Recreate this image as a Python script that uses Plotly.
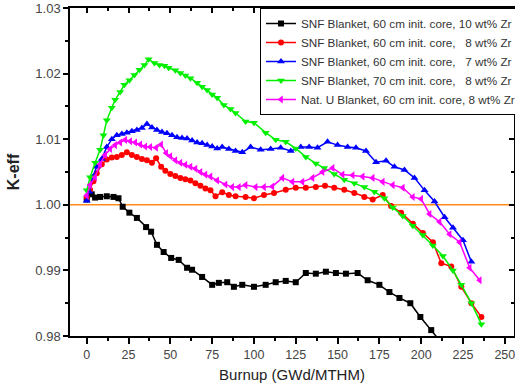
import plotly.graph_objects as go

# ---------------- data ----------------
burnup_10zr_60 = [0, 3, 5, 8, 12, 16, 19, 21.5, 25.5, 30, 35.5, 38.5, 42, 46, 50.5, 55, 60, 63,
                  69, 75, 79, 84, 88, 93, 100, 107, 113, 119, 125, 131, 137, 143, 149, 155, 162,
                  168, 175, 181, 187, 193.5, 199.5, 206, 212]
keff_10zr_60 = [1.0008, 1.0016, 1.0011, 1.0012, 1.0013, 1.0012, 1.0010, 0.9997, 0.9988, 0.9980,
                0.9966, 0.9959, 0.9939, 0.9928, 0.9919, 0.9916, 0.9904, 0.9901, 0.9890, 0.9878,
                0.9881, 0.9882, 0.9875, 0.9878, 0.9875, 0.9878, 0.9882, 0.9884, 0.9882, 0.9896,
                0.9895, 0.9898, 0.9896, 0.9895, 0.9896, 0.9885, 0.9878, 0.9867, 0.9858, 0.9850,
                0.9829, 0.9809, 0.9790]

burnup_8zr_60 = [0, 2, 4, 6, 9, 12, 15, 18, 21, 24, 27, 30, 33, 36, 39, 41.5, 44.5, 47, 50, 53,
                 56, 59, 62, 65, 68, 71, 74, 77, 81, 85, 89, 95, 100, 106, 112, 119, 125, 131,
                 137, 142.5, 148, 154, 160, 166, 171, 177, 182, 188, 195, 201, 207, 212, 218,
                 224, 230, 236]
keff_8zr_60 = [1.0012, 1.0023, 1.0036, 1.0048, 1.0062, 1.0069, 1.0072, 1.0073, 1.0076, 1.0080,
               1.0076, 1.0073, 1.0070, 1.0068, 1.0064, 1.0071, 1.0058, 1.0052, 1.0047, 1.0044,
               1.0041, 1.0039, 1.0037, 1.0033, 1.0029, 1.0025, 1.0022, 1.0013, 1.0019, 1.0015,
               1.0013, 1.0012, 1.0010, 1.0015, 1.0018, 1.0023, 1.0026, 1.0026, 1.0027, 1.0029,
               1.0026, 1.0023, 1.0018, 1.0012, 1.0008, 1.0015, 0.9998, 0.9988, 0.9971, 0.9957,
               0.9943, 0.9911, 0.9906, 0.9875, 0.9850, 0.9829]

burnup_7zr_60 = [0, 1.5, 3.5, 6, 9, 12, 15, 18, 21, 24, 27, 30, 33, 36, 39, 42, 45, 48, 51, 54,
                 57, 60, 63, 66, 69, 72, 75, 78, 81, 85, 89, 93, 98, 104, 110, 116, 122, 128,
                 133, 138, 144, 150, 156, 161, 167, 173, 179, 184, 190, 196, 202, 208, 214, 219,
                 225, 230]
keff_7zr_60 = [1.0006, 1.0020, 1.0042, 1.0058, 1.0070, 1.0088, 1.0100, 1.0106, 1.0108, 1.0110,
               1.0112, 1.0114, 1.0117, 1.0123, 1.0118, 1.0114, 1.0111, 1.0109, 1.0106, 1.0103,
               1.0102, 1.0101, 1.0098, 1.0095, 1.0094, 1.0091, 1.0089, 1.0086, 1.0088, 1.0085,
               1.0082, 1.0080, 1.0088, 1.0084, 1.0085, 1.0087, 1.0082, 1.0088, 1.0088, 1.0087,
               1.0096, 1.0091, 1.0088, 1.0087, 1.0082, 1.0065, 1.0067, 1.0058, 1.0053, 1.0041,
               1.0022, 1.0005, 0.9981, 0.9965, 0.9946, 0.9913]

burnup_8zr_70 = [0, 2, 5, 8, 10, 12, 15, 17, 20, 22.5, 25.5, 28.5, 31.5, 34.5, 37, 40.5, 43.5,
                 46.5, 49, 53, 56, 59, 62, 66, 69, 72, 75, 78, 82, 86, 89, 95, 100, 107, 113,
                 119, 125, 131, 137, 142, 148, 154, 160, 166, 172, 178, 183, 189, 195, 201,
                 207, 213, 219, 224, 230, 236]
keff_8zr_70 = [1.0022, 1.0042, 1.0064, 1.0084, 1.0106, 1.0129, 1.0148, 1.0160, 1.0172, 1.0183,
               1.0190, 1.0198, 1.0206, 1.0213, 1.0222, 1.0216, 1.0213, 1.0212, 1.0209, 1.0205,
               1.0201, 1.0197, 1.0193, 1.0186, 1.0180, 1.0175, 1.0168, 1.0163, 1.0152, 1.0146,
               1.0140, 1.0127, 1.0125, 1.0110, 1.0099, 1.0096, 1.0086, 1.0073, 1.0063, 1.0056,
               1.0047, 1.0038, 1.0033, 1.0027, 1.0020, 1.0010, 0.9996, 0.9983, 0.9968, 0.9954,
               0.9938, 0.9922, 0.9900, 0.9878, 0.9850, 0.9818]

burnup_natu = [0, 2, 5, 8, 11, 14, 17, 20, 23, 26, 29, 32, 35, 38, 41.5, 44.5, 47.5, 50, 53, 56,
               59, 62, 65, 68, 71, 74, 78, 83, 87, 91, 95, 101, 106, 111, 117, 123, 129, 135,
               141, 147, 153, 159, 165, 171, 177, 183, 189, 195, 200, 205, 211, 217, 223, 229,
               235]
keff_natu = [1.0014, 1.0030, 1.0042, 1.0062, 1.0076, 1.0085, 1.0091, 1.0095, 1.0099, 1.0097,
             1.0095, 1.0092, 1.0089, 1.0088, 1.0087, 1.0092, 1.0079, 1.0074, 1.0068, 1.0064,
             1.0061, 1.0058, 1.0055, 1.0050, 1.0046, 1.0043, 1.0037, 1.0031, 1.0027, 1.0027,
             1.0030, 1.0027, 1.0027, 1.0028, 1.0041, 1.0035, 1.0035, 1.0041, 1.0050, 1.0056,
             1.0046, 1.0045, 1.0043, 1.0041, 1.0035, 1.0030, 1.0026, 1.0012, 1.0009, 0.9986,
             0.9974, 0.9955, 0.9943, 0.9904, 0.9885]

series_names = [
    "SNF Blanket, 60 cm init. core, 10 wt% Zr",
    "SNF Blanket, 60 cm init. core,\u00a0\u00a0\u00a08 wt% Zr",
    "SNF Blanket, 60 cm init. core,\u00a0\u00a0\u00a07 wt% Zr",
    "SNF Blanket, 70 cm init. core,\u00a0\u00a0\u00a08 wt% Zr",
    "Nat. U Blanket, 60 cm init. core, 8 wt% Zr",
]
critical_keff = 1.00
x_ticks = [0, 25, 50, 75, 100, 125, 150, 175, 200, 225, 250]
y_ticks = [0.98, 0.99, 1.00, 1.01, 1.02, 1.03]
y_tick_text = ["0.98", "0.99", "1.00", "1.01", "1.02", "1.03"]

# ---------------- styles ----------------
colors = ["#000000", "#ff0000", "#0000ff", "#00f000", "#ff00ff"]
symbols = ["square", "circle", "triangle-up", "triangle-down", "triangle-left"]
sizes = [6, 6, 7, 7, 7]

xs = [burnup_10zr_60, burnup_8zr_60, burnup_7zr_60, burnup_8zr_70, burnup_natu]
ys = [keff_10zr_60, keff_8zr_60, keff_7zr_60, keff_8zr_70, keff_natu]

FONT = "Liberation Sans, Arial, sans-serif"

fig = go.Figure()
for name, x, y, c, s, sz in zip(series_names, xs, ys, colors, symbols, sizes):
    fig.add_trace(go.Scatter(
        x=x, y=y, name=name, mode="lines+markers",
        line=dict(color=c, width=1.5),
        marker=dict(symbol=s, size=sz, color=c, line=dict(width=0)),
    ))

# invisible helper trace so the mirrored top/right axes are drawn
fig.add_trace(go.Scatter(
    x=burnup_8zr_60[:1], y=keff_8zr_60[:1], xaxis="x2", yaxis="y2",
    mode="markers", marker=dict(opacity=0), showlegend=False, hoverinfo="skip",
))

fig.add_hline(y=critical_keff, line=dict(color="#ff8c1a", width=1.5), layer="below")

XR = [-10, 255.5]
YR = [0.98, 1.03]

fig.update_layout(
    width=515, height=391,
    margin=dict(l=70, r=1, t=8, b=55, autoexpand=False),
    paper_bgcolor="white", plot_bgcolor="white",
    font=dict(family=FONT, color="#333333", size=13),
    showlegend=True,
    legend=dict(
        x=(260 - 70) / 444, y=1, xanchor="left", yanchor="top",
        bgcolor="white", bordercolor="#000000", borderwidth=1,
        font=dict(family=FONT, size=11.7, color="#333333"),
        tracegroupgap=0,
    ),
    xaxis=dict(
        range=XR, tickmode="array", tickvals=x_ticks,
        ticks="outside", ticklen=6, tickwidth=1.5, tickcolor="#000",
        minor=dict(dtick=12.5, tick0=0, ticks="outside", ticklen=3, tickwidth=1.5, tickcolor="#000"),
        showline=True, linecolor="#000", linewidth=1.5, showgrid=False, zeroline=False,
        tickfont=dict(size=12.5, color="#444444"), ticklabeloverflow="allow",
        title=dict(text="Burnup (GWd/MTHM)", font=dict(size=15, color="#222222"), standoff=9),
        automargin=False,
    ),
    yaxis=dict(
        range=YR, tickmode="array", tickvals=y_ticks, ticktext=y_tick_text,
        ticks="outside", ticklen=5, tickwidth=1.5, tickcolor="#000",
        minor=dict(dtick=0.005, tick0=0.98, ticks="outside", ticklen=3, tickwidth=1.5, tickcolor="#000"),
        showline=True, linecolor="#000", linewidth=1.5, showgrid=False, zeroline=False,
        tickfont=dict(size=13, color="#444444"), ticklabeloverflow="allow",
        title=dict(text="<b>K-eff</b>", font=dict(size=16, color="#222222"), standoff=12),
        automargin=False,
    ),
    xaxis2=dict(
        overlaying="x", side="top", range=XR, tickmode="array", tickvals=x_ticks,
        ticks="inside", ticklen=5, tickwidth=1.5, tickcolor="#000", showticklabels=False,
        minor=dict(dtick=12.5, tick0=0, ticks="inside", ticklen=3, tickwidth=1.5, tickcolor="#000"),
        showline=True, linecolor="#000", linewidth=1.5, showgrid=False, zeroline=False,
        anchor="y2", automargin=False,
    ),
    yaxis2=dict(
        overlaying="y", side="right", range=YR, tickmode="array", tickvals=y_ticks,
        ticks="inside", ticklen=5, tickwidth=1.5, tickcolor="#000", showticklabels=False,
        minor=dict(dtick=0.005, tick0=0.98, ticks="inside", ticklen=3, tickwidth=1.5, tickcolor="#000"),
        showline=True, linecolor="#000", linewidth=1.5, showgrid=False, zeroline=False,
        anchor="x2", automargin=False,
    ),
)

# remove the browser's default 8px body margin so the 515x391 figure fills the window exactly
fig.write_html(
    "out.html",
    config={"displayModeBar": False},
    post_script="document.body.style.margin='0';document.body.style.overflow='hidden';",
)
